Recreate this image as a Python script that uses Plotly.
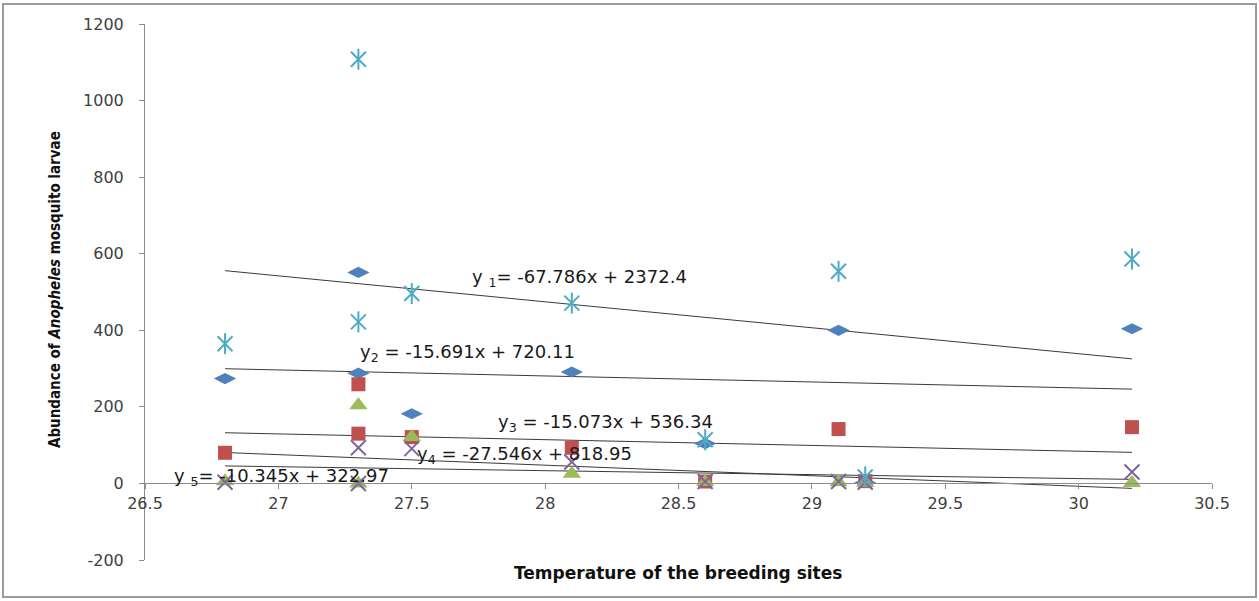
import plotly.graph_objects as go

# ---------------- data ----------------
temperature = [26.8, 27.3, 27.3, 27.5, 28.1, 28.6, 29.1, 29.2, 30.2]

series_names = ["Series 1", "Series 2", "Series 3", "Series 4", "Series 5"]
s1_diamond = [274, 551, 288, 182, 291, 104, 400, 2, 404]
s2_square = [80, 259, 130, 121, 93, 5, 142, 6, 147]
s3_triangle = [6, 204, 0, 121, 25, 4, 3, 2, 1]
s4_x = [3, 93, 0, 91, 56, 5, 5, 3, 30]
s5_star = [365, 1108, 422, 496, 471, 114, 554, 17, 586]

# linear trend lines (as printed on the chart)
trend_slopes = [-67.786, -15.691, -15.073, -27.546, -10.345]
trend_intercepts = [2372.4, 720.11, 536.34, 818.95, 322.97]
trend_labels = [
    "y <sub>1</sub>= -67.786x + 2372.4",
    "y<sub>2</sub> = -15.691x + 720.11",
    "y<sub>3</sub> = -15.073x + 536.34",
    "y<sub>4</sub> = -27.546x + 818.95",
    "y <sub>5</sub>= -10.345x + 322.97",
]

x_ticks = [26.5, 27, 27.5, 28, 28.5, 29, 29.5, 30, 30.5]
y_ticks = [-200, 0, 200, 400, 600, 800, 1000, 1200]

# ---------------- styling / layout ----------------
W, H = 1259, 601
L, T = 145, 24
R = W - 1212
B = H - 560
plot_w = W - L - R
plot_h = H - T - B
y_min, y_max = -200, 1200
zero_pos = (0 - y_min) / (y_max - y_min)


def px_x(p):
    return (p - L) / plot_w


def px_y(p):
    return (H - B - p) / plot_h


# label anchor positions (data coordinates, left edge of text)
label_pos = [(27.718, 536), (27.30, 340), (27.816, 159), (27.512, 73), (26.601, 18)]

tick_font = dict(family="DejaVu Sans, Verdana, sans-serif", size=16, color="#404040")
axis_col = "#8c8c8c"

fig = go.Figure()

# trend lines
x0, x1 = min(temperature), max(temperature)
for m, c in zip(trend_slopes, trend_intercepts):
    fig.add_trace(go.Scatter(
        x=[x0, x1], y=[m * x0 + c, m * x1 + c], mode="lines",
        line=dict(color="#3a3a3a", width=1), showlegend=False, hoverinfo="skip"))

fig.add_trace(go.Scatter(
    x=temperature, y=s1_diamond, mode="markers", name=series_names[0],
    marker=dict(symbol="diamond-wide", size=16, color="#4F81BD")))
fig.add_trace(go.Scatter(
    x=temperature, y=s2_square, mode="markers", name=series_names[1],
    marker=dict(symbol="square", size=14, color="#C0504D")))
fig.add_trace(go.Scatter(
    x=temperature, y=s3_triangle, mode="markers", name=series_names[2],
    marker=dict(symbol="triangle-up", size=16, color="#9BBB59")))
fig.add_trace(go.Scatter(
    x=temperature, y=s4_x, mode="markers", name=series_names[3],
    marker=dict(symbol="x-thin-open", size=15, color="#8064A2",
                line=dict(color="#8064A2", width=2))))
fig.add_trace(go.Scatter(
    x=temperature, y=s5_star, mode="markers", name=series_names[4],
    marker=dict(symbol="x-thin-open", size=15, color="#4BACC6",
                line=dict(color="#4BACC6", width=2))))
fig.add_trace(go.Scatter(
    x=temperature, y=s5_star, mode="markers", showlegend=False, hoverinfo="skip",
    marker=dict(symbol="line-ns-open", size=15, color="#4BACC6",
                line=dict(color="#4BACC6", width=2))))

for (lx, ly), txt in zip(label_pos, trend_labels):
    fig.add_annotation(x=lx, y=ly, xref="x", yref="y", text=txt, showarrow=False,
                       xanchor="left", yanchor="middle",
                       font=dict(family="DejaVu Sans, Verdana, sans-serif", size=18, color="#1a1a1a"))

# axis titles
fig.add_annotation(x=px_x(678), y=px_y(573), xref="paper", yref="paper",
                   text="<b>Temperature of the breeding sites</b>", showarrow=False,
                   xanchor="center", yanchor="middle",
                   font=dict(family="DejaVu Sans, sans-serif", size=17, color="#111111"))
fig.add_annotation(x=px_x(55), y=px_y(290), xref="paper", yref="paper",
                   text="<b>Abundance of <i>Anopheles</i> mosquito larvae</b>", showarrow=False,
                   textangle=-90, xanchor="center", yanchor="middle",
                   font=dict(family="Liberation Sans Narrow, DejaVu Sans Condensed, sans-serif",
                             size=15, color="#111111"))

# outer frame
fig.add_shape(type="rect", xref="paper", yref="paper",
              x0=px_x(3), x1=px_x(1256), y0=px_y(597), y1=px_y(4),
              line=dict(color="#9a9a9a", width=2), fillcolor="rgba(0,0,0,0)")

fig.update_layout(
    width=W, height=H, margin=dict(l=L, r=R, t=T, b=B),
    paper_bgcolor="white", plot_bgcolor="white", showlegend=False,
    xaxis=dict(range=[26.5, 30.5], tickvals=x_ticks, ticktext=[f"{v:g}" for v in x_ticks],
               showgrid=False, zeroline=False, showline=True, linecolor=axis_col, linewidth=1,
               ticks="outside", ticklen=5, tickcolor=axis_col, tickfont=tick_font,
               anchor="free", position=zero_pos),
    yaxis=dict(range=[y_min, y_max], tickvals=y_ticks, ticktext=[str(v) for v in y_ticks],
               showgrid=False, zeroline=False,
               showline=True, linecolor=axis_col, linewidth=1, ticks="outside", ticklen=5,
               tickcolor=axis_col, tickfont=tick_font, ticklabelstandoff=12),
)

fig.write_html("out.html", config={"displayModeBar": False},
               post_script="document.body.style.margin='0px';")
